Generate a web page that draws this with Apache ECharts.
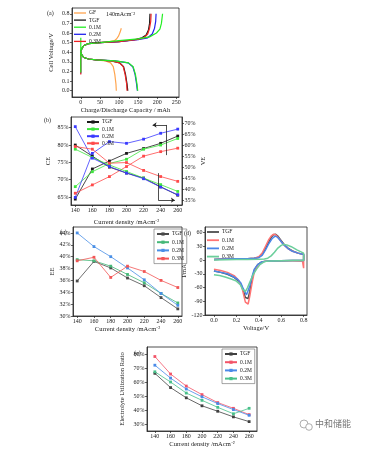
<!DOCTYPE html>
<html><head><meta charset="utf-8">
<script src="https://cdn.jsdelivr.net/npm/echarts@6/dist/echarts.min.js"></script>
<style>html,body{margin:0;padding:0;background:#fff}#c{width:367px;height:449px}</style>
</head><body><div id="c"></div>
<script>
// ---------- (a) charge / discharge curves [capacity mAh, voltage V] ----------
const aChargeGF  = [[0,0.41],[3,0.44],[8,0.47],[20,0.49],[50,0.5],[75,0.51],[88,0.52],[94,0.54],[99,0.57],[103,0.61],[106,0.65]];
const aChargeTGF = [[0,0.41],[3,0.44],[8,0.47],[20,0.49],[50,0.5],[100,0.51],[140,0.53],[160,0.55],[171,0.58],[177,0.63],[180,0.7],[181,0.8]];
const aCharge01  = [[0,0.19],[0,0.55],[0,0.41],[3,0.44],[8,0.47],[20,0.49],[50,0.5],[100,0.52],[150,0.54],[180,0.56],[198,0.6],[207,0.64],[211,0.7],[214,0.8]];
const aCharge02  = [[0,0.18],[0,0.41],[3,0.44],[8,0.47],[20,0.49],[50,0.5],[100,0.51],[150,0.53],[175,0.55],[187,0.59],[193,0.65],[196,0.72],[197,0.8]];
const aCharge03  = [[0,0.17],[0,0.41],[3,0.44],[8,0.47],[20,0.49],[50,0.5],[100,0.51],[145,0.53],[165,0.55],[175,0.59],[180,0.65],[183,0.72],[184,0.8]];
const aDisGF  = [[0,0.4],[3,0.37],[8,0.345],[20,0.33],[40,0.32],[65,0.31],[78,0.29],[85,0.25],[89,0.17],[92,0.07],[93,0]];
const aDisTGF = [[0,0.4],[3,0.37],[8,0.345],[20,0.33],[40,0.32],[80,0.31],[102,0.29],[112,0.25],[117,0.17],[121,0.07],[123,0]];
const aDis01  = [[0,0.4],[3,0.37],[8,0.345],[20,0.33],[40,0.32],[90,0.31],[125,0.29],[137,0.25],[143,0.17],[147,0.07],[149,0]];
const aDis02  = [[0,0.4],[3,0.37],[8,0.345],[20,0.33],[40,0.32],[90,0.31],[124,0.29],[136,0.25],[142,0.17],[146,0.07],[148,0]];
const aDis03  = [[0,0.4],[3,0.37],[8,0.345],[20,0.33],[40,0.32],[80,0.31],[101,0.29],[111,0.25],[116,0.17],[120,0.07],[121,0]];
const aXTicks = [0,50,100,150,200,250];
const aYTicks = [0,0.1,0.2,0.3,0.4,0.5,0.6,0.7,0.8];

// ---------- (b) CE / VE vs current density ----------
const current = [140,160,180,200,220,240,260];
const ceTGF = [64.4,73.1,75.4,77.6,79.0,80.5,82.6];
const ce01  = [68.0,72.3,74.7,75.9,78.8,80.0,81.9];
const ce02  = [64.9,77.6,81.0,80.5,81.7,83.4,84.6];
const ce03  = [66.1,68.5,70.9,73.8,76.8,78.1,79.1];
const veTGF = [60.1,55.0,50.0,47.3,45.0,41.0,37.2];
const ve01  = [58.2,54.4,51.0,48.0,45.0,42.0,38.9];
const ve02  = [68.5,54.1,50.3,47.3,44.7,40.9,37.4];
const ve03  = [59.4,58.2,51.8,52.1,48.5,45.7,43.5];
const curTicks = [140,160,180,200,220,240,260];
const bLeftTicks = [65,70,75,80,85];
const bRightTicks = [35,40,45,50,55,60,65,70];

// ---------- (c) EE ----------
const eeTGF = [35.9,39.2,38.1,36.4,35.1,33.1,31.2];
const ee01  = [39.5,39.3,38.4,37.0,35.6,33.8,32.2];
const ee02  = [44.0,41.7,40.0,38.1,36.1,33.8,31.8];
const ee03  = [39.3,39.9,36.5,38.4,37.5,36.0,34.8];
const cYTicks = [30,32,34,36,38,40,42,44];

// ---------- (d) CV curves [voltage V, current mA] ----------
const cvTGF = [[0,1],[0.1,2],[0.2,2.5],[0.3,3],[0.36,4],[0.4,6],[0.43,12],[0.46,25],[0.49,40],[0.51,49],[0.53,55],[0.55,56],[0.57,52],[0.6,42],[0.63,33],[0.66,26],[0.7,20],[0.75,15],[0.8,12],
  [0.8,-1],[0.7,-1],[0.6,-1.5],[0.5,-2],[0.45,-3],[0.42,-5],[0.39,-10],[0.36,-22],[0.34,-42],[0.32,-68],[0.305,-84],[0.295,-88],[0.28,-82],[0.265,-70],[0.25,-58],[0.22,-46],[0.18,-38],[0.12,-31],[0.06,-27],[0,-24]];
const cv01 = [[0,1],[0.1,2],[0.2,2.5],[0.3,3],[0.36,4],[0.4,7],[0.43,15],[0.46,30],[0.49,45],[0.51,52],[0.53,56],[0.55,55],[0.57,50],[0.6,40],[0.63,31],[0.66,25],[0.7,19],[0.75,15],[0.8,12],
  [0.8,-18],[0.79,-3],[0.7,-1.5],[0.6,-1.5],[0.5,-2],[0.45,-3],[0.42,-6],[0.39,-12],[0.36,-26],[0.34,-50],[0.32,-78],[0.305,-96],[0.295,-100],[0.28,-92],[0.265,-76],[0.25,-60],[0.22,-44],[0.18,-34],[0.12,-27],[0.06,-23],[0,-20]];
const cv02 = [[0,1],[0.1,2],[0.2,2.5],[0.3,3],[0.36,4],[0.4,5],[0.43,10],[0.46,22],[0.49,36],[0.52,47],[0.545,52],[0.565,50],[0.59,43],[0.62,34],[0.66,25],[0.7,19],[0.75,15],[0.8,12],
  [0.8,-1],[0.7,-1],[0.6,-1.5],[0.5,-2],[0.45,-3],[0.42,-5],[0.39,-10],[0.36,-20],[0.34,-36],[0.32,-56],[0.3,-70],[0.29,-76],[0.275,-72],[0.26,-62],[0.24,-50],[0.21,-42],[0.17,-36],[0.12,-30],[0.06,-27],[0,-24]];
const cv03 = [[0,0],[0.1,0.5],[0.2,1],[0.3,1],[0.4,1.5],[0.45,2],[0.48,4],[0.51,9],[0.54,17],[0.57,26],[0.6,32],[0.62,34],[0.65,33],[0.69,29],[0.74,22],[0.8,15],
  [0.8,-1],[0.7,-1],[0.6,-1.5],[0.5,-2],[0.47,-2.5],[0.44,-5],[0.41,-10],[0.38,-20],[0.35,-32],[0.32,-48],[0.3,-60],[0.28,-69],[0.27,-71],[0.255,-64],[0.235,-54],[0.2,-46],[0.16,-42],[0.1,-37],[0.05,-34],[0,-32]];
const dXTicks = [0,0.2,0.4,0.6,0.8];
const dYTicks = [-120,-90,-60,-30,0,30,60];

// ---------- (e) Electrolyte utilization ratio ----------
const euTGF = [66.2,56.0,48.7,43.0,39.1,35.1,31.7];
const eu01  = [78.2,65.7,57.1,51.0,45.3,41.2,36.7];
const eu02  = [72.0,62.8,55.0,49.4,44.6,40.3,36.2];
const eu03  = [67.3,60.0,52.1,46.9,41.9,37.3,41.2];
const eYTicks = [30,40,50,60,70,80];

// ---------- chart ----------
const F = 'Liberation Serif';
const INK = '#222';
const pct = v => v + '%';
const pair = (xs, ys) => xs.map((x, i) => [x, ys[i]]);
const strip = n => n.split('|')[1];

function axis(gi, min, max, ticks, name, gap, fmt, extra) {
  return Object.assign({
    type: 'value', gridIndex: gi, min: min, max: max,
    name: name, nameLocation: 'middle', nameGap: gap,
    nameTextStyle: {fontFamily: F, fontSize: 6.5, color: INK},
    axisLine: {show: true, onZero: false, lineStyle: {color: INK, width: 0.8}},
    axisTick: {show: true, customValues: ticks, length: 2, lineStyle: {color: INK, width: 0.7}},
    axisLabel: {customValues: ticks, fontFamily: F, fontSize: 6, color: INK, margin: 2.5, formatter: fmt},
    splitLine: {show: false}
  }, extra || {});
}
function legend(left, top, names, spacing, border, lineIcon) {
  const l = {
    left: left, top: top, orient: 'vertical', data: names, selectedMode: false,
    itemWidth: 12, itemHeight: 4, itemGap: spacing - 4.5,
    formatter: strip, padding: border ? [2, 3, 2, 2] : 0,
    borderColor: border ? '#666' : 'transparent', borderWidth: border ? 0.6 : 0,
    textStyle: {fontFamily: F, fontSize: 5.5, lineHeight: 4.5, color: INK, padding: [0, 0, 0, -2]}
  };
  if (lineIcon) { l.icon = 'rect'; l.itemHeight = lineIcon; }
  return l;
}
function ln(name, xi, yi, data, color, width, sym) {
  return {
    type: 'line', name: name, xAxisIndex: xi, yAxisIndex: yi, data: data,
    symbol: sym ? 'rect' : 'none', symbolSize: 2.8, showSymbol: !!sym,
    itemStyle: {color: color}, lineStyle: {color: color, width: width},
    animation: false, silent: true, z: 3
  };
}

const aCol = {GF: '#ffa54f', TGF: '#1a1a1a', '0.1M': '#22ee22', '0.2M': '#2222ee', '0.3M': '#ee2222'};
const bCol = {TGF: '#1a1a1a', '0.1M': '#3ee63e', '0.2M': '#3a3aff', '0.3M': '#ff4a4a'};
const cCol = {TGF: '#4a4a4a', '0.1M': '#45b878', '0.2M': '#4a8fe6', '0.3M': '#f25656'};
const dCol = {TGF: '#4d4d4d', '0.1M': '#ff7474', '0.2M': '#4a86e8', '0.3M': '#6ccf9c'};
const eCol = {TGF: '#404040', '0.1M': '#f25468', '0.2M': '#4a8ae8', '0.3M': '#48c08a'};

const series = [
  ln('a|GF', 0, 0, aChargeGF, aCol.GF, 1.2), ln('a|GF', 0, 0, aDisGF, aCol.GF, 1.2),
  ln('a|TGF', 0, 0, aChargeTGF, aCol.TGF, 1.2), ln('a|TGF', 0, 0, aDisTGF, aCol.TGF, 1.2),
  ln('a|0.2M', 0, 0, aCharge02, aCol['0.2M'], 1.2), ln('a|0.2M', 0, 0, aDis02, aCol['0.2M'], 1.2),
  ln('a|0.3M', 0, 0, aCharge03, aCol['0.3M'], 1.2), ln('a|0.3M', 0, 0, aDis03, aCol['0.3M'], 1.2),
  ln('a|0.1M', 0, 0, aCharge01, aCol['0.1M'], 1.2), ln('a|0.1M', 0, 0, aDis01, aCol['0.1M'], 1.2),

  ln('b|TGF', 1, 1, pair(current, ceTGF), bCol.TGF, 0.8, 1),
  ln('b|0.1M', 1, 1, pair(current, ce01), bCol['0.1M'], 0.8, 1),
  ln('b|0.2M', 1, 1, pair(current, ce02), bCol['0.2M'], 0.8, 1),
  ln('b|0.3M', 1, 1, pair(current, ce03), bCol['0.3M'], 0.8, 1),
  ln('b|TGF', 1, 2, pair(current, veTGF), bCol.TGF, 0.8, 1),
  ln('b|0.1M', 1, 2, pair(current, ve01), bCol['0.1M'], 0.8, 1),
  ln('b|0.2M', 1, 2, pair(current, ve02), bCol['0.2M'], 0.8, 1),
  ln('b|0.3M', 1, 2, pair(current, ve03), bCol['0.3M'], 0.8, 1),

  ln('c|TGF', 2, 3, pair(current, eeTGF), cCol.TGF, 0.8, 1),
  ln('c|0.1M', 2, 3, pair(current, ee01), cCol['0.1M'], 0.8, 1),
  ln('c|0.2M', 2, 3, pair(current, ee02), cCol['0.2M'], 0.8, 1),
  ln('c|0.3M', 2, 3, pair(current, ee03), cCol['0.3M'], 0.8, 1),

  ln('d|TGF', 3, 4, cvTGF, dCol.TGF, 1.5),
  ln('d|0.1M', 3, 4, cv01, dCol['0.1M'], 1.5),
  ln('d|0.2M', 3, 4, cv02, dCol['0.2M'], 1.5),
  ln('d|0.3M', 3, 4, cv03, dCol['0.3M'], 1.5),

  ln('e|TGF', 4, 5, pair(current, euTGF), eCol.TGF, 0.8, 1),
  ln('e|0.1M', 4, 5, pair(current, eu01), eCol['0.1M'], 0.8, 1),
  ln('e|0.2M', 4, 5, pair(current, eu02), eCol['0.2M'], 0.8, 1),
  ln('e|0.3M', 4, 5, pair(current, eu03), eCol['0.3M'], 0.8, 1)
];

// arrows in (b) (annotation, in data coords of the CE axis)
series[10].markLine = {
  silent: true, animation: false, label: {show: false},
  lineStyle: {color: INK, width: 0.8, type: 'solid'}, symbolSize: 4,
  data: [
    [{coord: [247, 77.1], symbol: 'none'}, {coord: [247, 85.8], symbol: 'none'}],
    [{coord: [247, 85.8], symbol: 'none'}, {coord: [230.6, 85.8], symbol: 'arrow'}],
    [{coord: [237.2, 71.9], symbol: 'none'}, {coord: [237.2, 64.1], symbol: 'none'}],
    [{coord: [237.2, 64.1], symbol: 'none'}, {coord: [256.7, 64.1], symbol: 'arrow'}]
  ]
};

const gridBox = {show: true, borderColor: INK, borderWidth: 0.8, backgroundColor: 'transparent'};
const option = {
  animation: false,
  backgroundColor: '#fff',
  grid: [
    Object.assign({left: 72, top: 8, width: 107, height: 89}, gridBox),
    Object.assign({left: 71, top: 117, width: 111, height: 88}, gridBox),
    Object.assign({left: 73, top: 227, width: 109, height: 89}, gridBox),
    Object.assign({left: 205, top: 227, width: 102, height: 88}, gridBox),
    Object.assign({left: 147, top: 347, width: 110, height: 88}, gridBox)
  ],
  xAxis: [
    axis(0, -23, 257, aXTicks, 'Charge/Discharge Capacity / mAh', 10),
    axis(1, 135, 265, curTicks, 'Current density /mAcm⁻²', 14),
    axis(2, 135, 265, curTicks, 'Current density /mAcm⁻²', 10),
    axis(3, -0.08, 0.83, dXTicks, 'Voltage/V', 10, v => v.toFixed(1)),
    axis(4, 130, 270, curTicks, 'Current density /mAcm⁻²', 10)
  ],
  yAxis: [
    axis(0, -0.065, 0.86, aYTicks, 'Cell Voltage/V', 17, v => v.toFixed(1)),
    axis(1, 62.7, 88.1, bLeftTicks, 'CE', 19, pct),
    axis(1, 32.7, 72.9, bRightTicks, 'VE', 14, pct, {position: 'right'}),
    axis(2, 30, 45, cYTicks, 'EE', 13, pct),
    axis(3, -120, 72, dYTicks, 'I/mA', 12),
    axis(4, 25, 85, eYTicks, 'Electrolyte Utilization Ratio', 21, pct)
  ],
  legend: [
    legend(74, 10, ['a|GF', 'a|TGF', 'a|0.1M', 'a|0.2M', 'a|0.3M'], 5.6, false, 1.3),
    legend(86, 119, ['b|TGF', 'b|0.1M', 'b|0.2M', 'b|0.3M'], 5.6),
    legend(154, 229, ['c|TGF', 'c|0.1M', 'c|0.2M', 'c|0.3M'], 6.7, true),
    legend(207, 229, ['d|TGF', 'd|0.1M', 'd|0.2M', 'd|0.3M'], 6.7, false, 1.8),
    legend(222, 349, ['e|TGF', 'e|0.1M', 'e|0.2M', 'e|0.3M'], 6.7, true)
  ],
  graphic: [
    {type: 'text', left: 47, top: 10, style: {text: '(a)', font: '6px "Liberation Serif"', fill: INK}},
    {type: 'text', left: 106, top: 11, style: {text: '140mAcm⁻²', font: '6px "Liberation Serif"', fill: INK}},
    {type: 'text', left: 44, top: 117, style: {text: '(b)', font: '6px "Liberation Serif"', fill: INK}},
    {type: 'text', left: 60, top: 229, style: {text: '(c)', font: '6px "Liberation Serif"', fill: INK}},
    {type: 'text', left: 184, top: 230, style: {text: '(d)', font: '6px "Liberation Serif"', fill: INK}},
    {type: 'text', left: 134, top: 350, style: {text: '(e)', font: '6px "Liberation Serif"', fill: INK}},
    {type: 'circle', shape: {cx: 304, cy: 424, r: 4}, style: {fill: 'none', stroke: '#999', lineWidth: 0.8}},
    {type: 'circle', shape: {cx: 309, cy: 427, r: 3.3}, style: {fill: '#fff', stroke: '#999', lineWidth: 0.8}},
    {type: 'text', left: 315, top: 419, style: {text: '中和储能', font: '9px "Noto Sans CJK SC"', fill: '#777'}}
  ],
  series: series
};
const chart = echarts.init(document.getElementById('c'), null, {renderer: 'canvas'});
chart.setOption(option);
</script></body></html>
